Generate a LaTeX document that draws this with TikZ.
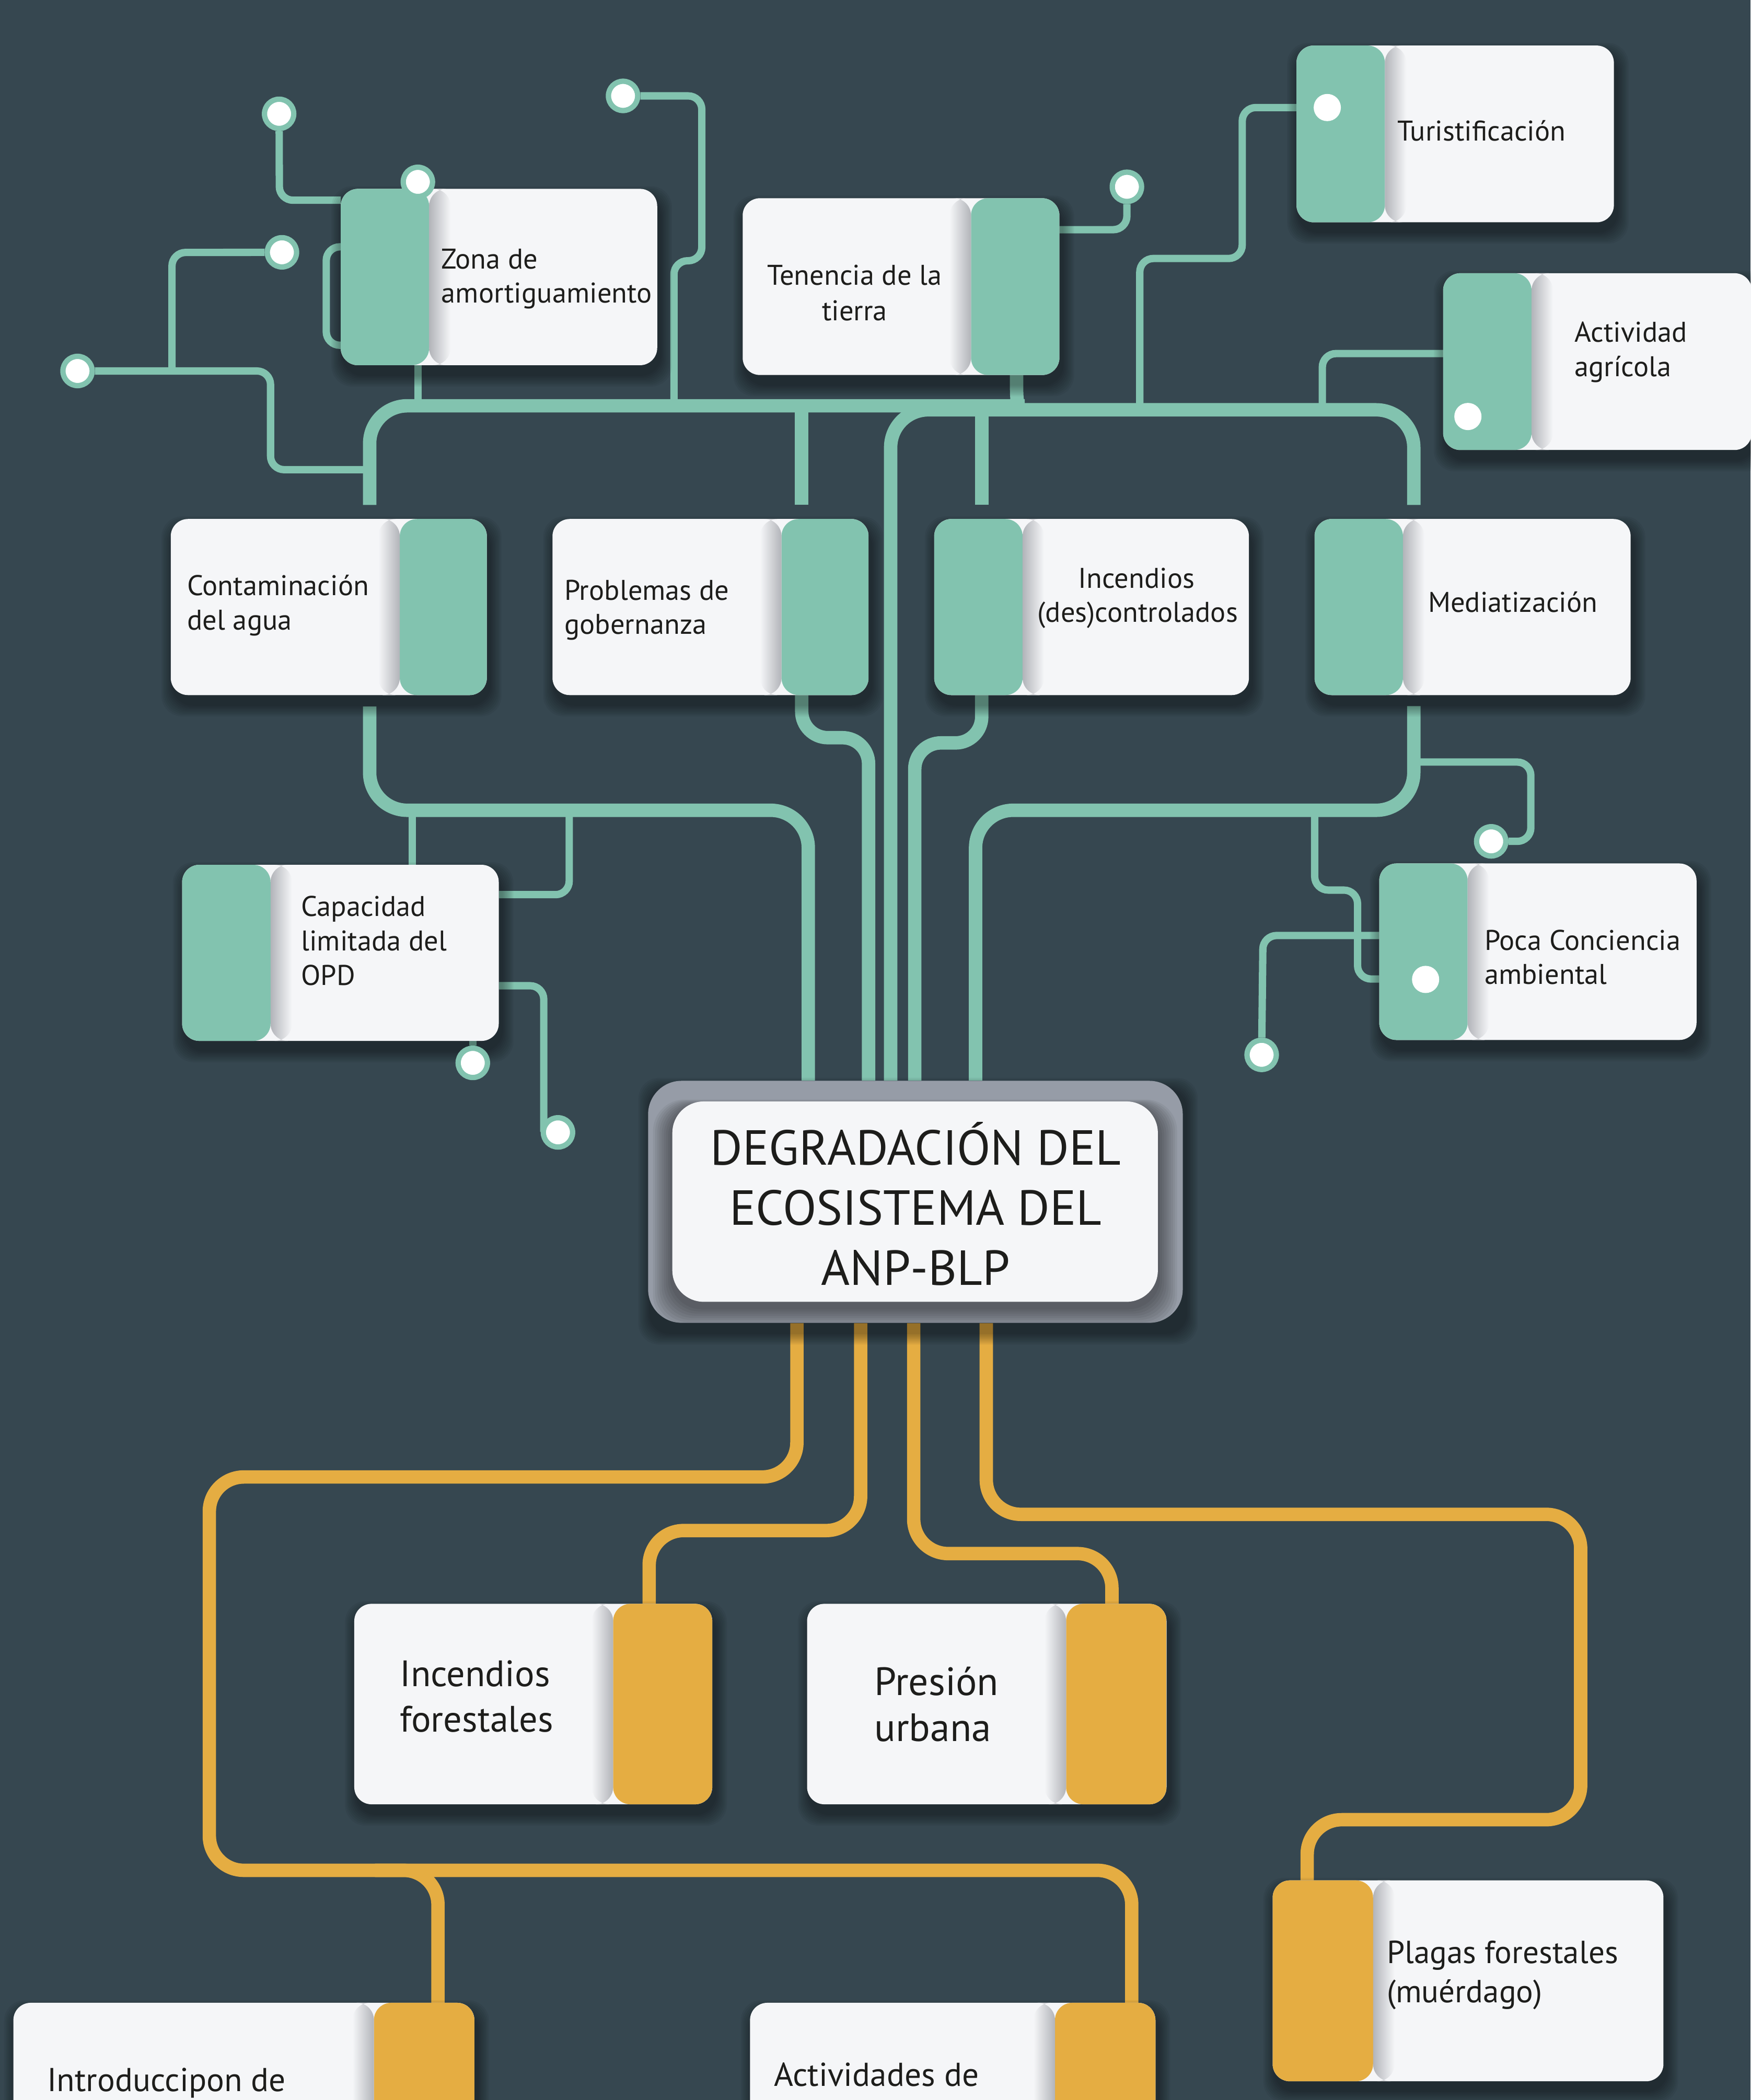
\documentclass[tikz,border=0pt]{standalone}
\usepackage{fontspec}
\setmainfont{PT Sans}
\usetikzlibrary{fit,calc}
\definecolor{bgc}{RGB}{54,71,80}
\definecolor{grn}{RGB}{130,195,175}
\definecolor{org}{RGB}{229,173,66}
\definecolor{boxw}{RGB}{245,246,248}
\definecolor{gry}{RGB}{150,156,167}
\definecolor{txtc}{RGB}{29,29,27}
\definecolor{edgec}{RGB}{178,180,185}
\pgfdeclarelayer{back}
\pgfdeclarelayer{wires}
\pgfdeclarelayer{shad}
\pgfsetlayers{back,wires,shad,main}
\newcommand\mkshadow[2][0.045]{%
  \begin{pgfonlayer}{shad}
  \foreach \i in {1,...,9}{%
    \fill[black, opacity=#1, rounded corners=0.4cm]
      ($(#2.north west)+(-\i+2,-\i+7)$) rectangle ($(#2.south east)+(\i+2,\i+7)$);}
  \end{pgfonlayer}}
\begin{document}
\begin{tikzpicture}[x=0.025625cm,y=-0.025625cm,
  box/.style={inner sep=0pt, outer sep=0pt, rounded corners=0.33cm, fill=boxw},
  stripL/.style 2 args={path picture={
    \fill[#1] (path picture bounding box.north west) rectangle ($(path picture bounding box.south west)+(#2,0)$);
    \shade[left color=edgec, right color=boxw] ($(path picture bounding box.north west)+(#2,0)$) rectangle ($(path picture bounding box.south west)+(#2+16,0)$);}},
  stripR/.style 2 args={path picture={
    \fill[#1] ($(path picture bounding box.north east)+(-#2,0)$) rectangle (path picture bounding box.south east);
    \shade[left color=boxw, right color=edgec] ($(path picture bounding box.north east)+(-#2-16,0)$) rectangle ($(path picture bounding box.south east)+(-#2,0)$);}},
  lbl/.style={inner sep=0pt, text=txtc, font=\fontsize{15.5}{18}\selectfont, anchor=base west},
  lblc/.style={lbl, anchor=base},
  big/.style={inner sep=0pt, text=txtc, font=\fontsize{20}{24}\selectfont, anchor=base west},
  ttl/.style={inner sep=0pt, text=txtc, font=\fontsize{26.8}{31}\selectfont, anchor=base},
  ring/.style={circle, fill=white, draw=grn, line width=2.9pt, minimum size=0.56cm, inner sep=0pt},
  pdot/.style={circle, fill=white, minimum size=0.52cm, inner sep=0pt},
  gth/.style={draw=grn, line width=7.3pt, rounded corners=0.72cm},
  gmd/.style={draw=grn, line width=7.3pt, rounded corners=0.5cm},
  gtn/.style={draw=grn, line width=4pt, rounded corners=0.26cm},
  ot/.style={draw=org, line width=7.3pt, rounded corners=0.66cm}
]
\useasboundingbox (0,0) rectangle (1307,1568);
\begin{pgfonlayer}{back}
\fill[bgc] (0,0) rectangle (1307,1568);
\end{pgfonlayer}

% ---------- boxes ----------
\node[box, stripL={grn}{66}, fit={(254.4,141) (490.7,272.7)}] (zona) {};
\node[box, stripR={grn}{66}, fit={(554.5,148) (791,280)}] (ten) {};
\node[box, stripL={grn}{66}, fit={(968,34) (1205,166)}] (tur) {};
\node[box, stripL={grn}{66}, fit={(1077.5,204) (1308,336)}] (act) {};
\node[box, stripR={grn}{65}, fit={(127.5,387.5) (363.5,519)}] (conta) {};
\node[box, stripR={grn}{65}, fit={(412.5,387.5) (648.5,519)}] (prob) {};
\node[box, stripL={grn}{66}, fit={(697.5,387.5) (932.5,519)}] (inc) {};
\node[box, stripL={grn}{66}, fit={(981.5,387.5) (1217.5,519)}] (med) {};
\node[box, stripL={grn}{66}, fit={(136,645.7) (372.4,777.2)}] (cap) {};
\node[box, stripL={grn}{66}, fit={(1029.8,644.7) (1266.7,776.5)}] (poca) {};

\node[inner sep=0pt, fill=gry, rounded corners=0.64cm,
  fit={(483.9,807) (883.1,987.7)}] (hub) {};
\begin{scope}
\clip[rounded corners=0.64cm] (483.9,807) rectangle (883.1,987.7);
\foreach \i in {1,...,9}{%
  \fill[black, opacity=0.05, rounded corners=0.6cm] (502-\i*1.6,822.4-\i*0.6+4) rectangle (864.5+\i*1.6,972+\i*1.6+4);}
\end{scope}
\node[inner sep=0pt, fill=boxw, rounded corners=0.6cm,
  fit={(502,822.4) (864.5,972)}] (hubin) {};

\node[box, stripR={org}{74}, fit={(264.5,1197.5) (531.8,1347.2)}] (incf) {};
\node[box, stripR={org}{75}, fit={(602.6,1197.5) (871,1347.2)}] (pres) {};
\node[box, stripL={org}{75}, fit={(950.2,1404) (1242,1554)}] (plag) {};
\node[box, stripR={org}{75}, fit={(10,1495.4) (354.2,1650)}] (intro) {};
\node[box, stripR={org}{75}, fit={(560,1495.4) (862.7,1650)}] (actv) {};

\foreach \n in {zona,ten,tur,act,conta,prob,inc,med,cap,poca,incf,pres,plag,intro,actv,hub}{\mkshadow{\n}}

% ---------- dots ----------
\node[ring] (d1) at (208.4,85) {};
\node[ring] (d2) at (210.5,188.4) {};
\node[ring] (d3) at (57.9,277) {};
\node[ring] (d4) at (465.2,71.6) {};
\node[ring] (d5) at (841.4,139.5) {};
\node[ring] (d6) at (353,793.6) {};
\node[ring] (d7) at (416.6,845.5) {};
\node[ring] (d8) at (1113.4,628.2) {};
\node[ring] (d9) at (942,787.6) {};
\node[ring] (d10) at (312,135.8) {};
\node[pdot] (p1) at (991,80.3) {};
\node[pdot] (p2) at (1096,311) {};
\node[pdot] (p3) at (1064.4,731.3) {};

% ---------- texts ----------
\node[lbl] (tz1) at (329.3,200.8) {Zona de};
\node[lbl] (tz2) at (329.3,226.1) {amortiguamiento};
\node[lblc] (tt1) at (638.1,212.8) {Tenencia de la};
\node[lblc] (tt2) at (638.1,239.2) {tierra};
\node[lbl] (tu1) at (1043,105.3) {Turistificación};
\node[lbl] (ta1) at (1175.4,255.4) {Actividad};
\node[lbl] (ta2) at (1175.4,281.1) {agrícola};
\node[lbl] (tc1) at (139.6,444.6) {Contaminación};
\node[lbl] (tc2) at (139.6,470.2) {del agua};
\node[lbl] (tp1) at (421.2,448.1) {Problemas de};
\node[lbl] (tp2) at (421.2,473.5) {gobernanza};
\node[lblc] (ti1) at (848.6,439) {Incendios};
\node[lblc] (ti2) at (849.4,464.6) {(des)controlados};
\node[lbl] (tm1) at (1066,457.2) {Mediatización};
\node[lbl] (tk1) at (224.6,684.3) {Capacidad};
\node[lbl] (tk2) at (224.6,710) {limitada del};
\node[lbl] (tk3) at (224.6,735.8) {OPD};
\node[lbl] (tq1) at (1108.2,709.4) {Poca Conciencia};
\node[lbl] (tq2) at (1108.2,734.9) {ambiental};

\node[ttl] (th1) at (683.7,869.9) {DEGRADACIÓN DEL};
\node[ttl] (th2) at (683.7,914.7) {ECOSISTEMA DEL};
\node[ttl] (th3) at (683.7,959.5) {ANP-BLP};

\node[big] (tf1) at (298.4,1259) {Incendios};
\node[big] (tf2) at (298.4,1293) {forestales};
\node[big, font=\fontsize{21.5}{25}\selectfont] (tr1) at (652.6,1265.9) {Presión};
\node[big, font=\fontsize{21.5}{25}\selectfont] (tr2) at (652.6,1300) {urbana};
\node[big, font=\fontsize{17.4}{21}\selectfont] (tg1) at (1035.2,1466) {Plagas forestales};
\node[big, font=\fontsize{17.4}{21}\selectfont] (tg2) at (1035.2,1495.4) {(muérdago)};
\node[big, font=\fontsize{18}{22}\selectfont] (tn1) at (35,1561.5) {Introduccipon de};
\node[big, font=\fontsize{18}{22}\selectfont] (tv1) at (577.6,1557.7) {Actividades de};

% ---------- connectors ----------
\begin{pgfonlayer}{wires}
% green thick
\draw[gth] (276,377) -- (276,303) -- (737,303) .. controls (759,303) .. (ten.south -| 759,0);
\draw[gth] (hub.north -| 665,0) -- (665,306) -- (1055.6,306) -- (1055.6,377);
\draw[gth] (598.6,303) -- (598.6,377);
\draw[gth] (733,306) -- (733,377);
\draw[gth] (276,527.5) -- (276,605) -- (603.5,605) -- (hub.north -| 603.5,0);
\draw[gmd] (prob.south -| 598.6,0) -- (598.6,550.8) -- (648.5,550.8) -- (hub.north -| 648.5,0);
\draw[gmd] (inc.south -| 733,0) -- (733,554.7) -- (683,554.7) -- (hub.north -| 683,0);
\draw[gth] (1055.6,527.2) -- (1055.6,605) -- (728.4,605) -- (hub.north -| 728.4,0);
% green thin
\draw[gtn] (d1) -- (208.6,149.5) -- (zona.west |- 0,149.5);
\draw[gtn] (d2) -- (128.4,188.5) -- (128.4,277);
\draw[gtn] (d3) -- (202,277) -- (202,350.7) -- (276,350.7);
\draw[gtn] (zona.west |- 0,184.3) -- (243.6,184.3) -- (243.6,257.8) -- (zona.west |- 0,257.8);
\draw[gtn] (zona.south -| 312,0) -- (312,303);
\draw[gtn] (503.2,303) -- (503.2,194.7) -- (524,194.7) -- (524,71.6) -- (d4);
\draw[gtn] (ten.east |- 0,171.5) -- (841.4,171.5) -- (d5);
\draw[gtn] (tur.west |- 0,80.3) -- (927.5,80.3) -- (927.5,193) -- (851,193) -- (851,306);
\draw[gtn] (act.west |- 0,264) -- (987.3,264) -- (987.3,306);
\draw[gtn] (308,605) -- (cap.north -| 308,0);
\draw[gtn] (425,605) -- (425,668) -- (cap.east |- 0,668);
\draw[gtn] (cap.east |- 0,736) -- (406,736) -- (406,845);
\draw[gtn] (cap.south -| 353,0) -- (d6);
\draw[gtn] (1055.6,569) -- (1143,569) -- (1143,628.2) -- (d8);
\draw[gtn] (981.6,605) -- (981.6,664.6) -- (1013.6,664.6) -- (1013.6,731) -- (poca.west |- 0,731);
\draw[gtn] (poca.west |- 0,698.5) -- (943,698.5) -- (d9);
% orange
\draw[ot] (hub.south -| 595,0) -- (595,1102.8) -- (156.3,1102.8) -- (156.3,1396.5) -- (845,1396.5) -- (actv.north -| 845,0);
\draw[ot] (280,1396.5) -- (327,1396.5) -- (intro.north -| 327,0);
\draw[ot] (hub.south -| 642.6,0) -- (642.6,1142.8) -- (484.7,1142.8) -- (incf.north -| 484.7,0);
\draw[ot] (hub.south -| 682.2,0) -- (682.2,1160) -- (830.2,1160) -- (pres.north -| 830.2,0);
\draw[ot] (hub.south -| 736.4,0) -- (736.4,1130.7) -- (1180.2,1130.7) -- (1180.2,1358.7) -- (976,1358.7) -- (plag.north -| 976,0);
\end{pgfonlayer}
\end{tikzpicture}
\end{document}
